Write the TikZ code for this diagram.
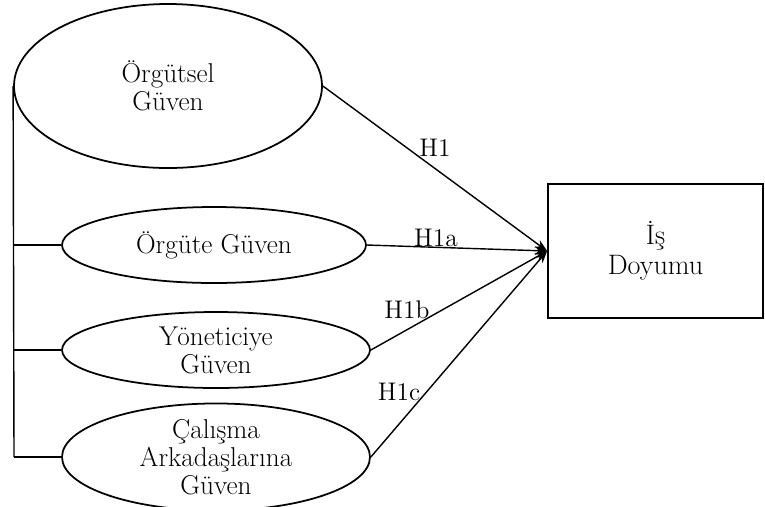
\documentclass[tikz,border=0pt]{standalone}
\usepackage{fontspec}
\usetikzlibrary{shapes.geometric,arrows.meta}
\tikzset{
    oval/.style={draw, ellipse, line width=1pt, inner sep=0pt, align=center,
        font=\fontsize{15.5}{16}\selectfont},
    link/.style={line width=0.8pt},
    hyp/.style={line width=0.8pt, -{Stealth[length=7pt,width=5pt]}},
    hlabel/.style={font=\fontsize{14.5}{16}\selectfont},
}
\begin{document}
\begin{tikzpicture}
    \useasboundingbox (0,0) rectangle (15.3,-10.12);
    % variables
    \node[oval, minimum width=6.16cm, minimum height=3.28cm] (orgutsel) at (3.36,-1.72) {Örgütsel\\Güven};
    \node[oval, minimum width=6.08cm, minimum height=1.52cm] (orgute) at (4.28,-4.90) {Örgüte Güven};
    \node[oval, minimum width=6.16cm, minimum height=1.52cm] (yonetici) at (4.32,-7.00) {Yöneticiye\\Güven};
    \node[oval, minimum width=6.16cm, minimum height=1.84cm] (calisma) at (4.32,-9.14) {Çalışma\\Arkadaşlarına\\Güven};
    \node[draw, line width=1pt, minimum width=4.30cm, minimum height=2.68cm, align=center,
        font=\fontsize{16}{17}\selectfont] (doyum) at (13.11,-5.02) {İş\\Doyumu};
    % bracket on the left
    \coordinate (bottom) at (0.28,-9.14);
    \draw[link] (orgutsel.west) -- (bottom);
    \draw[link] (orgute.west) -- (orgute.west -| bottom);
    \draw[link] (yonetici.west) -- (yonetici.west -| bottom);
    \draw[link] (calisma.west) -- (bottom);
    % hypotheses
    \draw[hyp] (orgutsel.east) -- (doyum.west);
    \draw[hyp] (orgute.east) -- (doyum.west);
    \draw[hyp] (yonetici.east) -- (doyum.west);
    \draw[hyp] (calisma.east) -- (doyum.west);
    \node[hlabel] (h1) at (8.70,-2.96) {H1};
    \node[hlabel] (h1a) at (8.72,-4.76) {H1a};
    \node[hlabel] (h1b) at (8.14,-6.20) {H1b};
    \node[hlabel] (h1c) at (7.98,-7.84) {H1c};
\end{tikzpicture}
\end{document}
